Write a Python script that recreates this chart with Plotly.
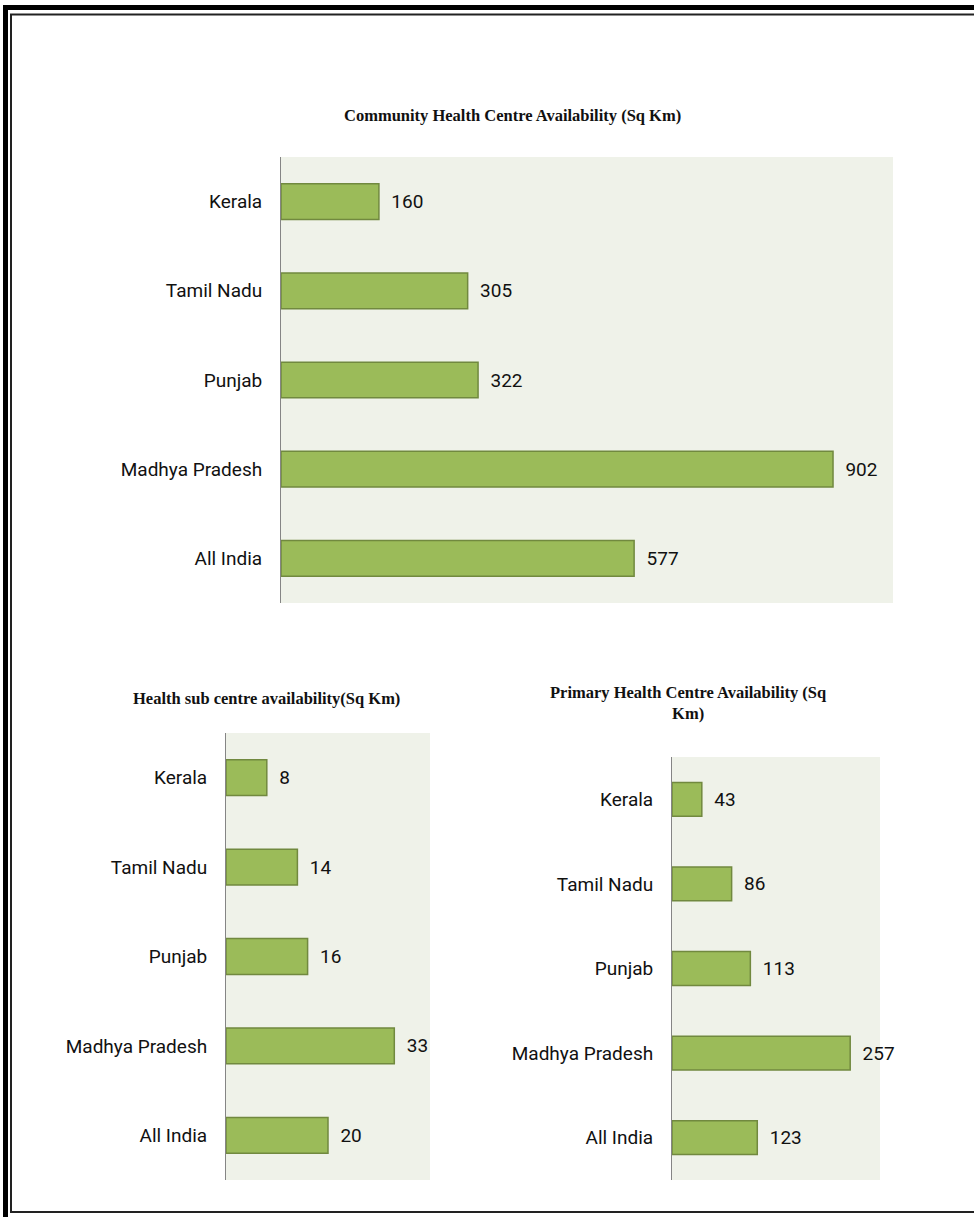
import plotly.graph_objects as go

W, H = 974, 1217

# ---- data ----
states = ["Kerala", "Tamil Nadu", "Punjab", "Madhya Pradesh", "All India"]
chc_values = [160, 305, 322, 902, 577]
hsc_values = [8, 14, 16, 33, 20]
phc_values = [43, 86, 113, 257, 123]

chc_title = "Community Health Centre Availability (Sq Km)"
hsc_title = "Health sub centre availability(Sq Km)"
phc_title_lines = ["Primary Health Centre Availability (Sq", "Km)"]

# ---- styles ----
BAR = "#9BBB59"
BAR_LINE = "#71893F"
PLOT_BG = "#EFF2E9"
AXIS = "#858585"
LABEL_FONT = dict(family="Roboto, Liberation Sans, sans-serif", size=19, color="#111111")
TITLE_FONT = dict(family="Liberation Serif, Times New Roman, serif", size=16.5, color="#111111")


def px_x(a, b):
    return [a / W, b / W]


def px_y(top, bottom):
    return [1 - bottom / H, 1 - top / H]


panels = [
    # values, xaxis name, yaxis name, x px domain, y px domain, range
    (chc_values, "x", "y", (281, 893), (157, 603), [0, 1000]),
    (hsc_values, "x2", "y2", (226, 430), (733, 1180), [0, 40]),
    (phc_values, "x3", "y3", (672, 880), (757, 1180), [0, 300]),
]

fig = go.Figure()
layout = {}
for vals, xa, ya, xd, yd, rng in panels:
    fig.add_trace(go.Bar(
        x=vals, y=states, orientation="h",
        xaxis=xa, yaxis=ya,
        marker=dict(color=BAR, line=dict(color=BAR_LINE, width=1.5)),
        texttemplate="  %{x}", textposition="outside",
        textfont=LABEL_FONT, constraintext="none", cliponaxis=False,
        showlegend=False, hoverinfo="skip",
    ))
    xkey = "xaxis" + xa[1:]
    ykey = "yaxis" + ya[1:]
    layout[xkey] = dict(domain=px_x(*xd), range=rng, visible=False, anchor=ya, fixedrange=True)
    layout[ykey] = dict(domain=px_y(*yd), anchor=xa, autorange="reversed",
                        showline=True, linecolor=AXIS, linewidth=1, ticks="",
                        showgrid=False, tickfont=LABEL_FONT, ticklabelstandoff=14,
                        categoryorder="array", categoryarray=states)

fig.update_layout(**layout)

annotations = [
    dict(text="<b>" + chc_title + "</b>", x=512 / W, y=1 - 116 / H),
    dict(text="<b>" + hsc_title + "</b>", x=266 / W, y=1 - 698 / H),
    dict(text="<br>".join("<b>" + s + "</b>" for s in phc_title_lines), x=688 / W, y=1 - 703 / H),
]
for a in annotations:
    a.update(xref="paper", yref="paper", showarrow=False, font=TITLE_FONT,
             xanchor="center", yanchor="middle", align="center")

shapes = [
    dict(type="rect", xref="paper", yref="paper",
         x0=5.5 / W, y0=1 - 7.5 / H, x1=1.05, y1=-0.05,
         line=dict(color="#000000", width=5)),
    dict(type="rect", xref="paper", yref="paper",
         x0=11 / W, y0=1 - 14.5 / H, x1=1.05, y1=1 - 1212 / H,
         line=dict(color="#222222", width=2)),
]

fig.update_layout(
    width=W, height=H,
    margin=dict(l=0, r=0, t=0, b=0),
    paper_bgcolor="white", plot_bgcolor=PLOT_BG,
    bargap=0.6,
    annotations=annotations, shapes=shapes,
)

fig.write_html(
    "out.html",
    config={"displayModeBar": False},
    post_script="document.body.style.margin='0';document.body.style.overflow='hidden';",
)
